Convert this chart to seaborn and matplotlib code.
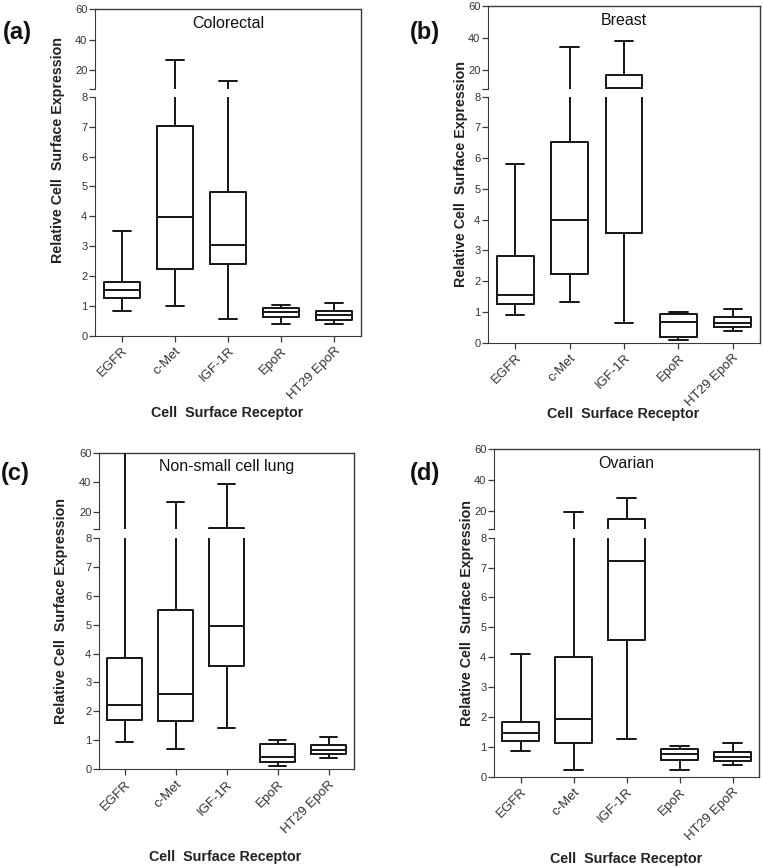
import numpy as np
import pandas as pd
import matplotlib
matplotlib.use('Agg')
import matplotlib.pyplot as plt
import seaborn as sns

# Receptors on the x axis
receptors = ['EGFR', 'c-Met', 'IGF-1R', 'EpoR', 'HT29 EpoR']

# Five-number summaries: [min, q1, median, q3, max]
colorectal = [[0.84, 1.26, 1.53, 1.80, 3.52],
              [1.00, 2.25, 3.99, 7.03, 27.0],
              [0.57, 2.40, 3.04, 4.81, 13.2],
              [0.41, 0.64, 0.79, 0.94, 1.05],
              [0.41, 0.53, 0.70, 0.85, 1.11]]
breast = [[0.91, 1.26, 1.56, 2.82, 5.81],
          [1.33, 2.23, 3.98, 6.54, 34.1],
          [0.63, 3.56, 8.50, 16.4, 37.9],
          [0.09, 0.17, 0.68, 0.92, 1.00],
          [0.39, 0.51, 0.65, 0.83, 1.10]]
lung = [[0.96, 1.70, 2.22, 3.84, 75.0],
        [0.70, 1.67, 2.59, 5.49, 26.5],
        [1.42, 3.57, 4.96, 8.80, 38.8],
        [0.12, 0.24, 0.41, 0.86, 1.00],
        [0.40, 0.53, 0.68, 0.84, 1.12]]
ovarian = [[0.86, 1.19, 1.45, 1.82, 4.10],
           [0.23, 1.12, 1.93, 4.01, 18.9],
           [1.26, 4.59, 7.22, 14.3, 28.5],
           [0.21, 0.56, 0.76, 0.92, 1.03],
           [0.39, 0.51, 0.67, 0.84, 1.12]]

titles = ['Colorectal', 'Breast', 'Non-small cell lung', 'Ovarian']
letters = ['(a)', '(b)', '(c)', '(d)']
datasets = [colorectal, breast, lung, ovarian]

sns.set_style('ticks')
plt.rcParams['font.family'] = ['Liberation Sans', 'DejaVu Sans']

W, H = 763, 868
fig = plt.figure(figsize=(W / 100, H / 100), dpi=100)

# pixel layout: left, right, top, top-segment bottom, bottom-segment top, bottom
layout = [(95, 361, 9.3, 88.7, 96.7, 336),
          (488, 760, 6, 88.7, 96.7, 342.7),
          (99, 354, 452.7, 529.3, 537.7, 769.3),
          (494, 759, 449.3, 529, 537.7, 776.7)]
ylabel_pos = [(58, 150), (461, 174), (61.5, 611), (467, 613)]
xlabel_pos = [(227, 413), (623, 414), (225, 857), (626, 859)]
letter_pos = [(3, 33), (410, 33), (1, 473), (410, 473)]

spine_c = '#3a3a3a'
text_c = '#333333'


def rect(l, r, t, b):
    return [l / W, 1 - b / H, (r - l) / W, (b - t) / H]


for i, stats in enumerate(datasets):
    l, r, t, tb, bt, b = layout[i]
    df = pd.DataFrame({'receptor': np.repeat(receptors, 5),
                       'value': np.ravel(stats)})

    # outer frame: top and right edges run unbroken
    frame = fig.add_axes(rect(l, r, t, b))
    frame.patch.set_visible(False)
    frame.set_xticks([])
    frame.set_yticks([])
    for s in ['left', 'bottom']:
        frame.spines[s].set_visible(False)
    for s in ['top', 'right']:
        frame.spines[s].set_visible(True)
        frame.spines[s].set_color(spine_c)
        frame.spines[s].set_linewidth(1.0)

    # broken y axis: 8-60 on top, 0-8 below
    ax_top = fig.add_axes(rect(l, r, t, tb))
    ax_bot = fig.add_axes(rect(l, r, bt, b))
    for ax in (ax_top, ax_bot):
        sns.boxplot(data=df, x='receptor', y='value', order=receptors,
                    whis=(0, 100), width=0.68, fill=False, color='#151515',
                    linewidth=1.4, ax=ax)
        ax.set_xlabel('')
        ax.set_ylabel('')
        ax.set_xlim(-0.5, 4.5)
        ax.patch.set_visible(False)
        for s in ['top', 'right']:
            ax.spines[s].set_visible(False)
        ax.spines['left'].set_color(spine_c)
        ax.spines['bottom'].set_color(spine_c)
        ax.tick_params(axis='y', length=4, width=0.9, color=spine_c,
                       labelsize=8, labelcolor=text_c, pad=1.5)

    ax_top.set_ylim(8, 60)
    ax_top.set_yticks([20, 40, 60])
    ax_top.set_yticks([8], minor=True)
    ax_top.tick_params(axis='y', which='minor', length=4, width=0.9, color=spine_c)
    ax_top.spines['bottom'].set_visible(False)
    ax_top.set_xticks([])

    ax_bot.set_ylim(0, 8)
    ax_bot.set_yticks(range(0, 9))
    ax_bot.tick_params(axis='x', length=4, width=0.9, color=spine_c,
                       labelsize=9.5, labelcolor=text_c, pad=2.5)
    for lab in ax_bot.get_xticklabels():
        lab.set_rotation(45)
        lab.set_ha('right')
        lab.set_rotation_mode('anchor')

    ax_top.text(0.5, 0.82, titles[i], transform=ax_top.transAxes,
                ha='center', va='center', fontsize=11.5, color='#111111')

    fig.text(ylabel_pos[i][0] / W, 1 - ylabel_pos[i][1] / H,
             'Relative Cell  Surface Expression', rotation=90,
             ha='center', va='center', fontsize=10.3, fontweight='bold',
             color='#222222')
    fig.text(xlabel_pos[i][0] / W, 1 - xlabel_pos[i][1] / H,
             'Cell  Surface Receptor', ha='center', va='center',
             fontsize=10.3, fontweight='bold', color='#222222')
    fig.text(letter_pos[i][0] / W, 1 - letter_pos[i][1] / H, letters[i],
             ha='left', va='center', fontsize=17, fontweight='bold',
             color='#111111')

fig.savefig('out.png', dpi=100)
